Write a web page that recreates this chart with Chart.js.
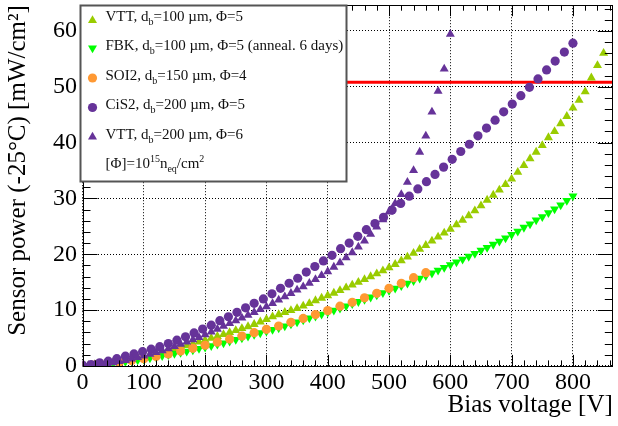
<!DOCTYPE html>
<html>
<head>
<meta charset="utf-8">
<script src="https://cdn.jsdelivr.net/npm/chart.js@4.4.1/dist/chart.umd.min.js"></script>
<style>
  html, body { margin: 0; padding: 0; background: #fff; }
  #wrap { width: 618px; height: 426px; }
</style>
</head>
<body>
<div id="wrap"><canvas id="c" width="618" height="426"></canvas></div>
<script>
// Sensor power vs bias voltage, ROOT-style plot redrawn with Chart.js.

const SERIF = "'Liberation Serif', 'Times New Roman', serif";

// Bias voltages of the 10 V scans (VTT, FBK).
const volts10 = [0,10,20,30,40,50,60,70,80,90,100,110,120,130,140,150,160,170,180,190,
  200,210,220,230,240,250,260,270,280,290,300,310,320,330,340,350,360,370,380,390,
  400,410,420,430,440,450,460,470,480,490,500,510,520,530,540,550,560,570,580,590,
  600,610,620,630,640,650,660,670,680,690,700,710,720,730,740,750,760,770,780,790,
  800,810,820,830,840,850];

// VTT, db=100 um, phi=5  (0..850 V)
const vtt100Power = [0,0.1,0.2,0.3,0.45,0.6,0.8,1.0,1.2,1.45,
  1.7,1.95,2.2,2.5,2.8,3.1,3.4,3.65,3.95,4.3,
  4.6,4.95,5.3,5.65,6.0,6.35,6.7,7.05,7.45,7.9,
  8.35,8.8,9.2,9.6,9.95,10.3,10.75,11.2,11.7,12.15,
  12.6,13.05,13.5,14.0,14.5,15.0,15.5,16.0,16.5,17.05,
  17.6,18.2,18.85,19.5,20.2,20.9,21.6,22.4,23.1,23.8,
  24.5,25.3,26.1,26.9,27.8,28.7,29.7,30.6,31.5,32.5,
  33.5,34.7,35.9,37.1,38.3,39.5,40.9,42.0,43.4,44.7,
  46.2,47.6,49.1,51.6,53.8,56.0];

// FBK, db=100 um, phi=5, annealed (0..800 V)
const fbkPower = [0,0.07,0.15,0.25,0.35,0.45,0.6,0.75,0.9,1.05,
  1.2,1.4,1.6,1.8,2.0,2.2,2.4,2.6,2.85,3.1,
  3.35,3.6,3.85,4.1,4.4,4.7,5.0,5.3,5.6,5.9,
  6.2,6.5,6.8,7.15,7.5,7.85,8.2,8.55,8.9,9.25,
  9.6,9.95,10.3,10.7,11.1,11.5,11.9,12.3,12.7,13.1,
  13.5,13.9,14.35,14.8,15.25,15.7,16.15,16.6,17.1,17.6,
  18.1,18.6,19.1,19.6,20.1,20.7,21.2,21.75,22.3,22.9,
  23.5,24.1,24.8,25.4,26.1,26.7,27.4,28.1,28.8,29.6,
  30.4];

// SOI2, db=150 um, phi=4 (20 V steps)
const soiVolts = [0,20,40,60,80,100,120,140,160,180,200,220,240,260,280,300,
  320,340,360,380,400,420,440,460,480,500,520,540,560];
const soiPower = [0,0.15,0.4,0.65,0.95,1.3,1.7,2.15,2.65,3.15,3.7,4.25,4.8,5.35,5.95,6.55,
  7.15,7.8,8.5,9.2,9.9,10.7,11.4,12.2,13.0,13.9,14.8,15.8,16.7];

// CiS2, db=200 um, phi=5
const cisVolts = [0,14,28,42,56,70,84,98,112,126,140,154,168,182,196,210,224,238,252,266,280,
  295,309,323,337,351,365,379,393,407,421,435,449,463,477,491,505,519,533,547,561,
  575,589,603,617,631,645,659,673,687,701,715,729,743,757,771,786,800];
const cisPower = [0.15,0.25,0.55,0.85,1.3,1.75,2.15,2.55,3.0,3.45,
  4.0,4.6,5.2,5.9,6.6,7.3,8.1,8.8,9.6,10.4,
  11.2,12.0,12.9,13.9,14.8,15.7,16.8,17.8,18.8,19.8,
  21.0,22.0,23.2,24.4,25.5,26.6,27.9,29.1,30.4,31.7,
  33.0,34.3,35.6,37.0,38.4,39.7,41.2,42.6,44.0,45.5,
  46.9,48.4,49.9,51.4,53.0,54.6,56.2,57.8];

// VTT, db=200 um, phi=6 (0..600 V)
const vtt200Power = [0,0.1,0.2,0.3,0.45,0.6,0.8,1.0,1.25,1.5,
  1.8,2.1,2.4,2.75,3.1,3.5,3.9,4.3,4.7,5.1,
  5.6,6.1,6.6,7.1,7.6,8.1,8.6,9.1,9.6,10.1,
  10.6,11.2,11.8,12.4,13.0,13.6,14.2,14.8,15.5,16.2,
  16.9,17.7,18.5,19.4,20.3,21.3,22.4,23.6,24.9,26.2,
  27.6,29.1,30.7,32.9,35.0,38.3,41.2,45.5,49.2,53.2,
  59.4];

// Power limit (red line)
const limitPower = 50.8;

const X_MAX = 865;
const Y_MAX = 64.6;

const colors = ["#99cc00", "#00ff00", "#ff9933", "#663399", "#663399"];
const styles = ["triangle", "triangle", "circle", "circle", "triangle"];
const rotations = [0, 180, 0, 0, 0];
const radii = [5.2, 5.2, 4.6, 4.6, 5.2];

// Legend rows: [text, "sub"|"sup"|undefined] pieces
const legendRows = [
  [["VTT, d"], ["b", "sub"], ["=100 \u00b5m, \u03a6=5"]],
  [["FBK, d"], ["b", "sub"], ["=100 \u00b5m, \u03a6=5 (anneal. 6 days)"]],
  [["SOI2, d"], ["b", "sub"], ["=150 \u00b5m, \u03a6=4"]],
  [["CiS2, d"], ["b", "sub"], ["=200 \u00b5m, \u03a6=5"]],
  [["VTT, d"], ["b", "sub"], ["=200 \u00b5m, \u03a6=6"]],
];
const unitRow = [["[\u03a6]=10"], ["15", "sup"], ["n"], ["eq", "sub"], ["/cm"], ["2", "sup"]];

const pts = (xs, ys) => ys.map((y, i) => ({ x: xs[i], y }));

function markerSet(i, data, order) {
  return {
    data,
    pointStyle: styles[i],
    rotation: rotations[i],
    pointRadius: radii[i],
    backgroundColor: colors[i],
    borderColor: colors[i],
    borderWidth: 0,
    showLine: false,
    order,
  };
}

function drawRich(ctx, x, y, parts) {
  for (const [t, kind] of parts) {
    ctx.font = (kind ? 10 : 15) + "px " + SERIF;
    const dy = kind === "sub" ? 4 : kind === "sup" ? -6 : 0;
    ctx.fillText(t, x, y + dy);
    x += ctx.measureText(t).width;
  }
}

// Frame plus inward major/minor ticks on all four sides, ROOT style.
const frameTicks = {
  id: "frameTicks",
  afterDatasetsDraw(chart) {
    const { ctx, chartArea: a, scales } = chart;
    ctx.save();
    ctx.strokeStyle = "#000";
    ctx.lineWidth = 1;
    ctx.beginPath();
    for (let v = 0; v <= X_MAX; v += 20) {
      const px = Math.round(scales.x.getPixelForValue(v)) + 0.5;
      const len = v % 100 === 0 ? 11 : 5.5;
      ctx.moveTo(px, a.bottom); ctx.lineTo(px, a.bottom - len);
      ctx.moveTo(px, a.top); ctx.lineTo(px, a.top + len);
    }
    for (let v = 0; v <= Y_MAX; v += 2) {
      const py = Math.round(scales.y.getPixelForValue(v)) + 0.5;
      const len = v % 10 === 0 ? 15 : 8;
      ctx.moveTo(a.left, py); ctx.lineTo(a.left + len, py);
      ctx.moveTo(a.right, py); ctx.lineTo(a.right - len, py);
    }
    ctx.stroke();
    ctx.strokeRect(Math.round(a.left) + 0.5, Math.round(a.top) + 0.5,
      Math.round(a.right - a.left) - 1, Math.round(a.bottom - a.top));
    ctx.restore();
  },
};

const legendBox = {
  id: "legendBox",
  afterDraw(chart) {
    const { ctx } = chart;
    const bx = 80.5, by = 5.5, bw = 266, bh = 176;
    ctx.save();
    ctx.fillStyle = "#fff";
    ctx.fillRect(bx, by, bw, bh);
    ctx.strokeStyle = "#555";
    ctx.lineWidth = 2;
    ctx.strokeRect(bx, by, bw, bh);
    const rowY = [21, 50, 79.5, 109, 138.5];
    const markY = [20.5, 48, 78, 107.5, 137];
    legendRows.forEach((row, i) => {
      ctx.fillStyle = colors[i];
      Chart.helpers.drawPoint(ctx, {
        pointStyle: styles[i], rotation: rotations[i],
        radius: radii[i], borderWidth: 0,
      }, 92.5, markY[i]);
      ctx.fillStyle = "#111";
      ctx.textBaseline = "alphabetic";
      drawRich(ctx, 105.5, rowY[i], row);
    });
    ctx.fillStyle = "#111";
    drawRich(ctx, 105.5, 168, unitRow);
    ctx.restore();
  },
};

new Chart(document.getElementById("c"), {
  type: "scatter",
  data: {
    datasets: [
      {
        type: "line",
        data: [{ x: 0, y: limitPower }, { x: X_MAX, y: limitPower }],
        borderColor: "#ff0000",
        borderWidth: 3,
        pointRadius: 0,
        order: 10,
      },
      markerSet(0, pts(volts10, vtt100Power), 5),
      markerSet(1, pts(volts10, fbkPower), 4),
      markerSet(2, pts(soiVolts, soiPower), 3),
      markerSet(3, pts(cisVolts, cisPower), 2),
      markerSet(4, pts(volts10, vtt200Power), 1),
    ],
  },
  options: {
    responsive: false,
    animation: false,
    events: [],
    devicePixelRatio: 1,
    layout: { padding: { top: 5, right: 2.7, left: 0, bottom: 0 } },
    plugins: { legend: { display: false }, tooltip: { enabled: false } },
    scales: {
      x: {
        type: "linear",
        min: 0,
        max: X_MAX,
        afterFit: (s) => { s.height = 60.1; s.paddingLeft = 0; s.paddingRight = 0; },
        ticks: {
          stepSize: 100,
          includeBounds: false,
          maxRotation: 0,
          autoSkip: false,
          padding: 2,
          color: "#000",
          font: { family: SERIF, size: 24 },
        },
        grid: { color: "#000", lineWidth: 1, drawTicks: false },
        border: { display: false, dash: [1, 2] },
        title: {
          display: true,
          text: "Bias voltage [V]",
          align: "end",
          color: "#000",
          font: { family: SERIF, size: 25 },
          padding: { top: 0, bottom: 6 },
        },
      },
      y: {
        type: "linear",
        min: 0,
        max: Y_MAX,
        afterFit: (s) => { s.width = 82.5; s.paddingTop = 0; s.paddingBottom = 0; },
        ticks: {
          stepSize: 10,
          includeBounds: false,
          padding: 5.5,
          color: "#000",
          font: { family: SERIF, size: 24 },
        },
        grid: { color: "#000", lineWidth: 1, drawTicks: false },
        border: { display: false, dash: [1, 2] },
        title: {
          display: true,
          text: "Sensor power (-25\u00b0C) [mW/cm\u00b2]",
          align: "end",
          color: "#000",
          font: { family: SERIF, size: 25 },
          padding: { top: 3, bottom: 0 },
        },
      },
    },
  },
  plugins: [frameTicks, legendBox],
});
</script>
</body>
</html>
